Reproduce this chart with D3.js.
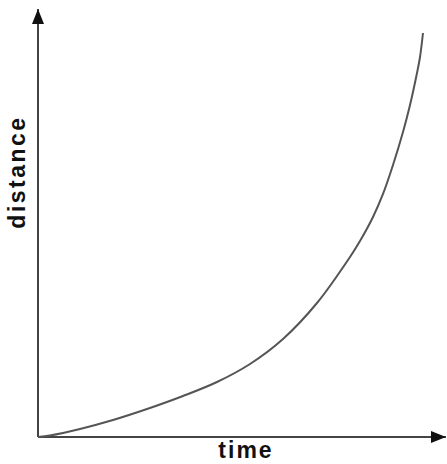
<!DOCTYPE html>
<html lang="en">
<head>
    <meta charset="UTF-8">
    <title>Distance vs Time</title>
    <script src="https://d3js.org/d3.v7.min.js"></script>
    <style>
        body { margin: 0; background: #fff; }
        svg { display: block; }
        .label {
            font-family: "Liberation Sans", Arial, sans-serif;
            font-weight: bold;
            font-size: 23px;
            fill: #111;
        }
    </style>
</head>
<body>
    <div id="chart"></div>

    <script>
        // curve (time, distance) in % of axis length
        const time = [0, 2.94, 10.29, 18.38, 26.72, 35.54, 43.87, 51.96, 60.05, 68.38, 76.47, 78.92, 82.11, 84.56, 87.01, 89.46, 91.18, 92.89, 93.63, 94.36];
        const distance = [0, 0.35, 1.87, 3.97, 6.54, 9.58, 12.85, 17.06, 22.9, 31.31, 42.06, 45.79, 51.4, 56.78, 63.55, 71.26, 77.57, 85.05, 88.79, 94.39];
        const xLabel = "time";
        const yLabel = "distance";

        const W = 447, H = 464;
        const svg = d3.select("#chart").append("svg").attr("width", W).attr("height", H);

        const x = d3.scaleLinear().domain([0, 100]).range([38, 446]);
        const y = d3.scaleLinear().domain([0, 100]).range([437, 9]);

        const defs = svg.append("defs");
        defs.append("marker")
            .attr("id", "arrow")
            .attr("viewBox", "0 0 15 12")
            .attr("refX", 15).attr("refY", 6)
            .attr("markerWidth", 15).attr("markerHeight", 12)
            .attr("markerUnits", "userSpaceOnUse")
            .attr("orient", "auto")
            .append("path")
            .attr("d", "M0,0 L15,6 L0,12 Z")
            .attr("fill", "#111");

        // axes
        svg.append("line")
            .attr("x1", x(0)).attr("y1", y(0))
            .attr("x2", x(0)).attr("y2", y(100))
            .attr("stroke", "#444").attr("stroke-width", 2)
            .attr("marker-end", "url(#arrow)");

        svg.append("line")
            .attr("x1", x(0)).attr("y1", y(0))
            .attr("x2", x(100)).attr("y2", y(0))
            .attr("stroke", "#444").attr("stroke-width", 2)
            .attr("marker-end", "url(#arrow)");

        // curve
        const pts = time.map((t, i) => [t, distance[i]]);
        const line = d3.line()
            .x(d => x(d[0]))
            .y(d => y(d[1]))
            .curve(d3.curveCatmullRom);

        svg.append("path")
            .datum(pts)
            .attr("d", line)
            .attr("fill", "none")
            .attr("stroke", "#555")
            .attr("stroke-width", 2);

        // labels
        svg.append("text")
            .attr("class", "label")
            .attr("x", 246).attr("y", 458)
            .attr("text-anchor", "middle")
            .attr("letter-spacing", 2)
            .text(xLabel);

        svg.append("text")
            .attr("class", "label")
            .attr("transform", "translate(25,172) rotate(-90)")
            .attr("text-anchor", "middle")
            .attr("letter-spacing", 2.5)
            .text(yLabel);
    </script>
</body>
</html>
